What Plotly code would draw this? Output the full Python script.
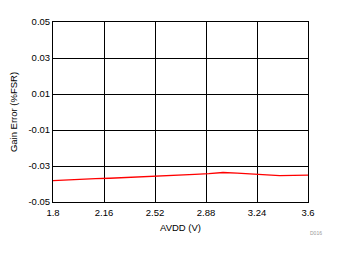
import plotly.graph_objects as go

avdd = [1.8, 1.9, 2.0, 2.1, 2.2, 2.3, 2.4, 2.5, 2.6, 2.7, 2.8, 2.9, 3.0, 3.1, 3.2, 3.3, 3.4, 3.5, 3.6]
gain_error = [-0.0381, -0.0376, -0.0373, -0.0370, -0.0368, -0.0365, -0.0362, -0.0358, -0.0355,
              -0.0350, -0.0346, -0.0342, -0.0336, -0.0340, -0.0345, -0.0350, -0.0354, -0.0352, -0.0351]
x_ticks = [1.8, 2.16, 2.52, 2.88, 3.24, 3.6]
x_labels = ["1.8", "2.16", "2.52", "2.88", "3.24", "3.6"]
y_ticks = [-0.05, -0.03, -0.01, 0.01, 0.03, 0.05]
y_labels = ["-0.05", "-0.03", "-0.01", "0.01", "0.03", "0.05"]

fig = go.Figure()
fig.add_trace(go.Scatter(x=avdd, y=gain_error, mode="lines",
                         line=dict(color="#ff0000", width=1.3), showlegend=False))

font = dict(family="Liberation Sans, Arial, sans-serif", size=9.5, color="#000000")
fig.update_layout(
    width=337, height=254,
    margin=dict(l=53, r=29, t=22, b=52),
    paper_bgcolor="white", plot_bgcolor="white",
    font=font,
    xaxis=dict(range=[1.8, 3.6], tickvals=x_ticks, ticktext=x_labels,
               showgrid=True, gridcolor="black", gridwidth=1,
               showline=True, linecolor="black", linewidth=1, mirror=True,
               zeroline=False, ticks="", ticklen=0, ticklabelstandoff=2,
               title=dict(text="AVDD (V)", font=font, standoff=6)),
    yaxis=dict(range=[-0.05, 0.05], tickvals=y_ticks, ticktext=y_labels,
               showgrid=True, gridcolor="black", gridwidth=1,
               showline=True, linecolor="black", linewidth=1, mirror=True,
               zeroline=False, ticks="", ticklen=0,
               title=dict(text="Gain Error (%FSR)", font=font, standoff=9)),
    annotations=[dict(text="D016", x=1.0, y=-0.17, xref="paper", yref="paper",
                      xanchor="left", yanchor="middle", showarrow=False,
                      font=dict(family="Liberation Sans, Arial, sans-serif", size=5, color="#999999"))],
)
fig.write_html("out.html")
